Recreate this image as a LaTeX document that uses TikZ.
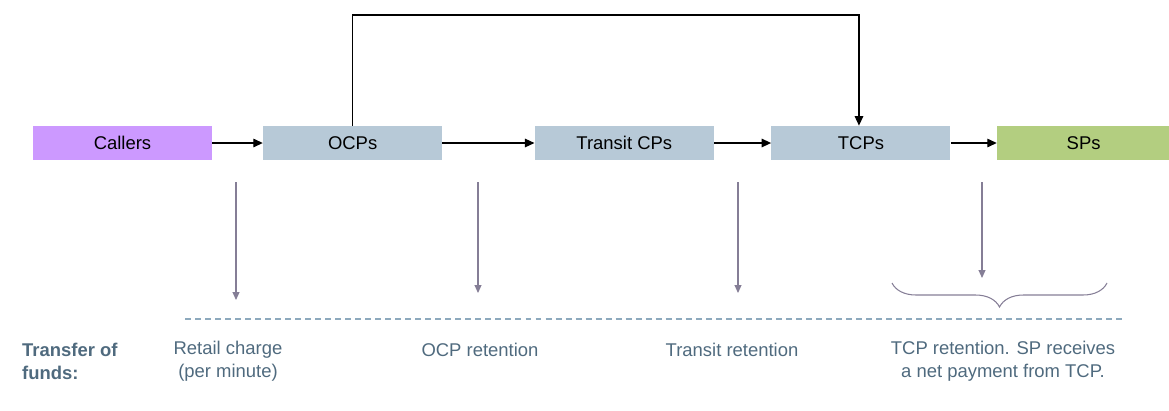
\documentclass[tikz,border=0pt]{standalone}
\usepackage{fontspec}
\setmainfont{Liberation Sans}
\usetikzlibrary{positioning,arrows.meta,decorations.pathreplacing}
\definecolor{callercol}{HTML}{CC99FF}
\definecolor{cpcol}{HTML}{B7C9D7}
\definecolor{spcol}{HTML}{B3CE80}
\definecolor{fundcol}{HTML}{4F6A7E}
\definecolor{greyarrow}{HTML}{857E96}
\definecolor{dashcol}{HTML}{8DA9BD}
\tikzset{
  party/.style={minimum width=3.58cm, minimum height=0.68cm, inner sep=0pt, font=\fontsize{10.5}{13}\selectfont},
  flow/.style={line width=0.75pt, -{Triangle[length=1.9mm,width=1.7mm]}},
  share/.style={line width=0.6pt, greyarrow, -{Triangle[length=1.6mm,width=1.4mm]}},
  fund/.style={text=fundcol, align=center, font=\fontsize{10.5}{13}\selectfont},
}

\begin{document}
\begin{tikzpicture}[x=0.02cm, y=-0.02cm]
 \useasboundingbox (0,0) rectangle (1169,410);
 \node [party, fill=callercol] (callers) at (122.5,143) {Callers};
 \node [party, fill=cpcol, right=1.01cm of callers] (ocps) {OCPs};
 \node [party, fill=cpcol, right=1.84cm of ocps] (transit) {Transit CPs};
 \node [party, fill=cpcol, right=1.14cm of transit] (tcps) {TCPs};
 \node [party, fill=spcol, right=0.92cm of tcps, minimum width=3.46cm] (sps) {SPs};
 \coordinate (top) at (600,15);

 \draw [flow] (callers) -- (ocps);
 \draw [flow] (ocps) -- (transit);
 \draw [flow] (transit) -- (tcps);
 \draw [flow] (tcps) -- (sps);
 \draw [flow] (ocps.north) |- (top) -| ([xshift=-0.04cm]tcps.north);

 \coordinate (s1) at (236,182); \coordinate (e1) at (236,300);
 \coordinate (s2) at (478,182); \coordinate (e2) at (478,293);
 \coordinate (s3) at (738,182); \coordinate (e3) at (738,293);
 \coordinate (s4) at (982,182); \coordinate (e4) at (982,278);
 \draw [share] (s1) -- (e1);
 \draw [share] (s2) -- (e2);
 \draw [share] (s3) -- (e3);
 \draw [share] (s4) -- (e4);

 \coordinate (b1) at (892,283);
 \coordinate (b2) at (1107,283);
 \draw [greyarrow, line width=0.6pt, decorate, decoration={brace, mirror, amplitude=0.48cm}] (b1) -- (b2);

 \coordinate (d1) at (185,319);
 \coordinate (d2) at (1125,319);
 \draw [dashcol, line width=0.6pt, dash pattern=on 3.4pt off 2.3pt] (d1) -- (d2);

 \node [fund, font=\fontsize{10.5}{13}\selectfont\bfseries, align=left, anchor=west] (label) at (16,361) {Transfer of\\funds:};
 \node [fund] (retail) at (228,361) {Retail charge\\(per minute)};
 \node [fund] (ocpret) at (480,350) {OCP retention};
 \node [fund] (transret) at (732,350) {Transit retention};
 \node [fund] (tcpret) at (1003,361) {TCP retention. SP receives\\a net payment from TCP.};
\end{tikzpicture}
\end{document}
